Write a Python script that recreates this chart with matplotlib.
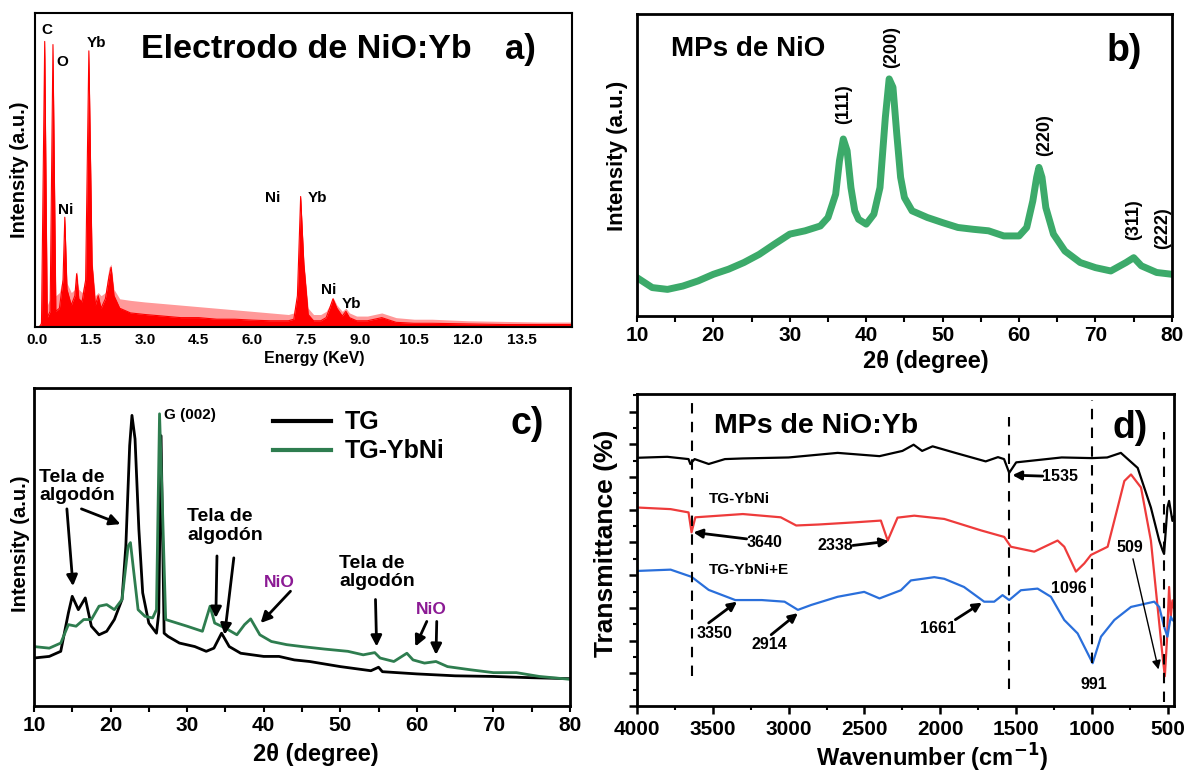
import numpy as np
import matplotlib.pyplot as plt
from matplotlib.ticker import MultipleLocator

plt.rcParams['font.family'] = ['Liberation Sans', 'DejaVu Sans']
plt.rcParams['font.weight'] = 'bold'

# a) EDS spectrum (relative intensity, 1 = top of frame)
edx_e = [0.05, 0.12, 0.21, 0.28, 0.36, 0.44, 0.52, 0.62, 0.72, 0.77, 0.83, 0.95, 1.05, 1.10, 1.16,
         1.25, 1.35, 1.44, 1.53, 1.62, 1.70, 1.78, 1.90, 2.00, 2.06, 2.14, 2.3, 2.6, 3.0, 3.5, 4.0,
         4.5, 5.0, 5.5, 6.0, 6.5, 7.0, 7.15, 7.25, 7.34, 7.43, 7.55, 7.7, 7.9, 8.05, 8.15, 8.24,
         8.35, 8.5, 8.6, 8.7, 8.9, 9.2, 9.6, 10.0, 10.5, 11.0, 12.0, 13.0, 14.0, 14.9]
edx_solid = [0.0, 0.01, 0.91, 0.03, 0.05, 0.90, 0.05, 0.06, 0.15, 0.35, 0.12, 0.07, 0.10, 0.17, 0.09,
             0.08, 0.15, 0.88, 0.20, 0.07, 0.10, 0.06, 0.09, 0.16, 0.19, 0.10, 0.06, 0.045, 0.04, 0.035, 0.03,
             0.03, 0.025, 0.025, 0.022, 0.02, 0.02, 0.025, 0.10, 0.416, 0.20, 0.04, 0.02, 0.02, 0.03, 0.06, 0.09,
             0.06, 0.035, 0.05, 0.03, 0.02, 0.02, 0.03, 0.015, 0.012, 0.012, 0.01, 0.008, 0.008, 0.008]
edx_noise = [0.0, 0.03, 0.91, 0.07, 0.09, 0.90, 0.10, 0.11, 0.16, 0.35, 0.14, 0.11, 0.12, 0.18, 0.12,
             0.11, 0.16, 0.88, 0.21, 0.10, 0.11, 0.10, 0.11, 0.19, 0.20, 0.12, 0.09, 0.085, 0.08, 0.075, 0.07,
             0.065, 0.06, 0.055, 0.05, 0.045, 0.04, 0.045, 0.11, 0.416, 0.21, 0.06, 0.04, 0.04, 0.05, 0.07, 0.095,
             0.07, 0.05, 0.06, 0.045, 0.035, 0.035, 0.045, 0.03, 0.025, 0.025, 0.02, 0.018, 0.016, 0.016]
edx_ticks = [0.0, 1.5, 3.0, 4.5, 6.0, 7.5, 9.0, 10.5, 12.0, 13.5]
edx_peak_names = ['C', 'O', 'Yb', 'Ni', 'Ni', 'Yb', 'Ni', 'Yb']
edx_peak_e = [0.26, 0.70, 1.65, 0.80, 6.57, 7.81, 8.12, 8.76]
edx_peak_h = [0.947, 0.846, 0.904, 0.374, 0.411, 0.411, 0.119, 0.074]

# b) XRD of NiO microparticles
xrd_b_x = [10, 12, 14, 16, 18, 20, 22, 24, 26, 28, 30, 32, 34, 35, 36, 36.5, 37, 37.5, 38, 38.5, 39,
           40, 41, 41.8, 42.5, 43, 43.5, 44, 44.5, 45, 46, 48, 50, 52, 54, 56, 58, 60, 61, 61.8,
           62.3, 62.6, 63, 63.5, 64.5, 66, 68, 70, 72, 74, 75, 76, 78, 80]
xrd_b_y = [0.127, 0.094, 0.088, 0.099, 0.116, 0.138, 0.155, 0.177, 0.204, 0.238, 0.271, 0.282, 0.298,
           0.326, 0.403, 0.514, 0.586, 0.547, 0.425, 0.348, 0.320, 0.304, 0.337, 0.425, 0.657, 0.785,
           0.757, 0.602, 0.459, 0.392, 0.348, 0.326, 0.309, 0.293, 0.287, 0.282, 0.265, 0.265, 0.293,
           0.381, 0.459, 0.492, 0.459, 0.359, 0.271, 0.215, 0.177, 0.160, 0.149, 0.177, 0.193, 0.166,
           0.144, 0.138]
hkl_labels = ['(111)', '(200)', '(220)', '(311)', '(222)']
hkl_x = [37.0, 43.3, 63.3, 75.0, 78.8]
hkl_y = [0.70, 0.89, 0.60, 0.32, 0.29]

# c) XRD of the fabrics
tg_x = [10, 12, 13.5, 14.5, 15, 15.8, 16.7, 17.5, 18.5, 19.5, 20.5, 21.5, 22, 22.5, 22.8, 23.2, 23.7,
        24.2, 25, 26, 26.3, 26.6, 27, 27.5, 29, 31, 32.5, 33.5, 34.5, 35.5, 37, 40, 42, 44, 46, 50,
        54, 55, 55.5, 60, 65, 70, 75, 80]
tg_y = [0.151, 0.156, 0.172, 0.293, 0.345, 0.303, 0.340, 0.251, 0.224, 0.235, 0.272, 0.335, 0.503,
        0.819, 0.914, 0.840, 0.556, 0.356, 0.261, 0.229, 0.293, 0.850, 0.229, 0.219, 0.198, 0.187,
        0.172, 0.182, 0.229, 0.187, 0.166, 0.156, 0.156, 0.145, 0.140, 0.124, 0.111, 0.122, 0.108,
        0.101, 0.095, 0.093, 0.089, 0.086]
tgybni_x = [10, 12, 13.5, 14.5, 15.5, 16.5, 17.5, 18.5, 19.5, 20.5, 21.5, 22.3, 22.6, 23, 23.6, 24.5,
            25.5, 26, 26.4, 26.8, 27.2, 28, 30, 32, 33, 33.6, 35, 36.5, 37.5, 38.3, 39.5, 41, 43, 45,
            48, 51, 53, 54.5, 55.2, 57, 58.7, 59.5, 61, 62.5, 64, 67, 70, 73, 76, 80]
tgybni_y = [0.187, 0.182, 0.198, 0.256, 0.251, 0.272, 0.272, 0.314, 0.319, 0.303, 0.335, 0.503, 0.514,
            0.429, 0.303, 0.282, 0.277, 0.303, 0.919, 0.608, 0.272, 0.266, 0.251, 0.235, 0.314, 0.261,
            0.245, 0.224, 0.256, 0.274, 0.224, 0.203, 0.193, 0.187, 0.179, 0.172, 0.161, 0.168, 0.151,
            0.140, 0.166, 0.145, 0.135, 0.140, 0.124, 0.114, 0.105, 0.105, 0.093, 0.084]
xrd_ticks = [10, 20, 30, 40, 50, 60, 70, 80]

# d) FTIR spectra
ftir_black_x = [4000, 3800, 3700, 3660, 3648, 3620, 3527, 3420, 3302, 3000, 2677, 2401, 2250, 2176, 2120,
                2051, 1901, 1701, 1620, 1580, 1546, 1500, 1400, 1200, 1000, 900, 810, 699, 612, 557,
                535, 525, 503, 492, 470, 460]
ftir_black_y = [7.59, 7.62, 7.57, 7.55, 7.40, 7.55, 7.40, 7.55, 7.57, 7.60, 7.74, 7.64, 7.80, 7.99, 7.80,
                7.94, 7.74, 7.48, 7.61, 7.55, 7.13, 7.45, 7.50, 7.60, 7.58, 7.60, 7.74, 7.28, 6.07, 5.06,
                4.76, 4.65, 6.07, 6.27, 5.66, 5.80]
ftir_red_x = [4000, 3778, 3660, 3640, 3615, 3302, 3052, 2950, 2802, 2552, 2392, 2347, 2282, 2172, 1974,
              1732, 1579, 1535, 1381, 1227, 1183, 1106, 1051, 1007, 897, 831, 787, 743, 677, 612, 568,
              535, 520, 506, 492, 481, 470, 460]
ftir_red_y = [6.07, 6.02, 5.92, 5.31, 5.77, 5.87, 5.77, 5.52, 5.55, 5.62, 5.67, 5.06, 5.76, 5.82, 5.72,
              5.37, 5.17, 4.87, 4.72, 5.06, 4.87, 4.11, 4.36, 4.62, 4.87, 6.07, 6.88, 7.08, 6.68, 5.06, 3.04,
              1.52, 0.91, 2.02, 3.64, 2.73, 3.23, 3.00]
ftir_blue_x = [4000, 3778, 3640, 3527, 3352, 3177, 3027, 2939, 2851, 2677, 2502, 2401, 2260, 2194, 2040,
               1974, 1844, 1711, 1645, 1590, 1546, 1469, 1359, 1271, 1183, 1095, 996, 941, 853, 743,
               590, 557, 525, 503, 481, 470, 460]
ftir_blue_y = [4.13, 4.17, 3.95, 3.55, 3.24, 3.24, 3.19, 2.94, 3.09, 3.34, 3.49, 3.29, 3.54, 3.84, 3.94,
               3.89, 3.64, 3.19, 3.19, 3.39, 3.24, 3.54, 3.59, 3.34, 2.63, 2.22, 1.31, 2.12, 2.63, 3.03,
               3.19, 3.03, 2.43, 2.12, 2.73, 2.63, 2.60]
ftir_ticks = [4000, 3500, 3000, 2500, 2000, 1500, 1000, 500]
band_x = [3640, 1550, 1000, 524]
band_top = [9.25, 8.85, 9.35, 8.39]
band_bottom = [0.92, 0.52, 1.32, 0.11]

fig = plt.figure(figsize=(11.87, 7.75), dpi=100)
ax_a = fig.add_axes([0.0295, 0.578, 0.4524, 0.405])
ax_b = fig.add_axes([0.5366, 0.5923, 0.4507, 0.3897])
ax_c = fig.add_axes([0.0286, 0.0890, 0.4516, 0.4103])
ax_d = fig.add_axes([0.5366, 0.0890, 0.4524, 0.4026])


def frame(ax, lw):
    for s in ax.spines.values():
        s.set_linewidth(lw)
    ax.set_yticks([])


def labels(ax, xl, xs, xpos, yl, ys, ypos):
    ax.set_xlabel(xl, fontsize=xs, fontweight='bold', va='center')
    ax.xaxis.set_label_coords(*xpos)
    ax.set_ylabel(yl, fontsize=ys, fontweight='bold', va='center')
    ax.yaxis.set_label_coords(*ypos)


def arrow(ax, start, end, lw=2.0, ms=16):
    ax.annotate('', xy=end, xytext=start,
                arrowprops=dict(arrowstyle='-|>', color='k', lw=lw, mutation_scale=ms,
                                shrinkA=0, shrinkB=0))


# ---- a)
ax_a.fill_between(edx_e, 0, edx_noise, color='#ff0000', alpha=0.4, lw=0)
ax_a.fill_between(edx_e, 0, edx_solid, color='#ff0000', lw=0)
ax_a.plot(edx_e, edx_solid, color='#ff0000', lw=0.8)
ax_a.set_xlim(-0.06, 14.9)
ax_a.set_ylim(0, 1)
frame(ax_a, 1.5)
ax_a.set_xticks(edx_ticks)
ax_a.set_xticklabels(['%.1f' % t for t in edx_ticks], fontsize=11, fontweight='bold')
ax_a.tick_params(axis='x', length=0, pad=4)
labels(ax_a, 'Energy (KeV)', 11.5, (0.52, -0.1), 'Intensity (a.u.)', 14.5, (-0.028, 0.5))
for name, e, h in zip(edx_peak_names, edx_peak_e, edx_peak_h):
    ax_a.text(e, h, name, fontsize=11, fontweight='bold', ha='center', va='center')
ax_a.text(2.89, 0.885, 'Electrodo de NiO:Yb', fontsize=24.5, fontweight='bold', va='center')
ax_a.text(13.45, 0.885, 'a)', fontsize=25, fontweight='bold', ha='center', va='center')

# ---- b)
ax_b.plot(xrd_b_x, xrd_b_y, color='#3CAA6A', lw=5)
ax_b.set_xlim(10, 80)
ax_b.set_ylim(0, 1)
frame(ax_b, 2)
ax_b.set_xticks(xrd_ticks)
ax_b.set_xticklabels([str(t) for t in xrd_ticks], fontsize=15, fontweight='bold')
ax_b.xaxis.set_minor_locator(MultipleLocator(5))
ax_b.tick_params(axis='x', which='both', direction='out', length=4, width=1.5, pad=3)
labels(ax_b, '2θ (degree)', 17, (0.54, -0.152), 'Intensity (a.u.)', 16, (-0.037, 0.53))
for lab, x, y in zip(hkl_labels, hkl_x, hkl_y):
    ax_b.text(x, y, lab, rotation=90, fontsize=13, fontweight='bold', ha='center', va='center')
ax_b.text(14.5, 0.884, 'MPs de NiO', fontsize=20, fontweight='bold', va='center')
ax_b.text(73.75, 0.878, 'b)', fontsize=27, fontweight='bold', ha='center', va='center')

# ---- c)
ax_c.plot(tg_x, tg_y, color='k', lw=2, label='TG')
ax_c.plot(tgybni_x, tgybni_y, color='#2E7D4F', lw=2, label='TG-YbNi')
ax_c.set_xlim(10, 80)
ax_c.set_ylim(0, 1)
frame(ax_c, 2)
ax_c.set_xticks(xrd_ticks)
ax_c.set_xticklabels([str(t) for t in xrd_ticks], fontsize=15, fontweight='bold')
ax_c.xaxis.set_minor_locator(MultipleLocator(5))
ax_c.tick_params(axis='x', which='both', direction='out', length=4, width=1.5, pad=3)
labels(ax_c, '2θ (degree)', 17, (0.526, -0.152), 'Intensity (a.u.)', 14.5, (-0.026, 0.51))
leg = ax_c.legend(loc='upper left', bbox_to_anchor=(0.446, 0.93), frameon=False, fontsize=18,
                  handlelength=2.3, handletextpad=0.55, labelspacing=0.2, borderpad=0, borderaxespad=0)
for h in leg.get_lines():
    h.set_linewidth(3)
ax_c.text(27.0, 0.914, 'G (002)', fontsize=11, fontweight='bold', va='center')
ax_c.text(74.4, 0.887, 'c)', fontsize=27, fontweight='bold', ha='center', va='center')
tela_kw = dict(fontsize=14, fontweight='bold', va='center', linespacing=1.1)
ax_c.text(10.7, 0.69, 'Tela de\nalgodón', **tela_kw)
ax_c.text(30.0, 0.566, 'Tela de\nalgodón', **tela_kw)
ax_c.text(49.9, 0.419, 'Tela de\nalgodón', **tela_kw)
nio_kw = dict(fontsize=12.5, fontweight='bold', color='#8B1A94', ha='center', va='center')
ax_c.text(42.0, 0.387, 'NiO', **nio_kw)
ax_c.text(61.9, 0.305, 'NiO', **nio_kw)
arrow(ax_c, (14.3, 0.62), (15.1, 0.377))
arrow(ax_c, (16.2, 0.62), (21.3, 0.572))
arrow(ax_c, (33.9, 0.472), (33.75, 0.277))
arrow(ax_c, (36.1, 0.466), (34.9, 0.224))
arrow(ax_c, (43.5, 0.361), (39.6, 0.261))
arrow(ax_c, (54.6, 0.335), (54.75, 0.187))
arrow(ax_c, (61.3, 0.266), (59.8, 0.187))
arrow(ax_c, (62.6, 0.266), (62.5, 0.161))

# ---- d)
ax_d.plot(ftir_black_x, ftir_black_y, color='k', lw=1.6)
ax_d.plot(ftir_red_x, ftir_red_y, color='#EE3B3B', lw=1.6)
ax_d.plot(ftir_blue_x, ftir_blue_y, color='#2A6FDB', lw=1.6)
for x, y0, y1 in zip(band_x, band_bottom, band_top):
    ax_d.plot([x, x], [y0, y1], color='k', lw=1.5, ls=(0, (5, 4)))
ax_d.set_xlim(4000, 460)
ax_d.set_ylim(0, 9.54)
for s in ax_d.spines.values():
    s.set_linewidth(2)
ax_d.set_xticks(ftir_ticks)
ax_d.set_xticklabels([str(t) for t in ftir_ticks], fontsize=15, fontweight='bold')
ax_d.xaxis.set_minor_locator(MultipleLocator(250))
ax_d.set_yticks(range(0, 10))
ax_d.yaxis.set_minor_locator(MultipleLocator(0.5))
ax_d.set_yticklabels([])
ax_d.tick_params(which='major', direction='out', length=6, width=1.8, pad=4)
ax_d.tick_params(which='minor', direction='out', length=3, width=1.5)
labels(ax_d, 'Wavenumber (cm$^{\\mathbf{-1}}$)', 17, (0.55, -0.165), 'Transmittance (%)', 19, (-0.058, 0.52))
ax_d.text(3490, 8.55, 'MPs de NiO:Yb', fontsize=20.5, fontweight='bold', va='center')
ax_d.text(750, 8.5, 'd)', fontsize=27, fontweight='bold', ha='center', va='center')
ax_d.text(3527, 6.32, 'TG-YbNi', fontsize=11, fontweight='bold', va='center')
ax_d.text(3527, 4.15, 'TG-YbNi+E', fontsize=11, fontweight='bold', va='center')
num_kw = dict(fontsize=11.5, fontweight='bold', ha='center', va='center')
ax_d.text(1210, 7.03, '1535', **num_kw)
ax_d.text(3157, 5.01, '3640', **num_kw)
ax_d.text(2689, 4.91, '2338', **num_kw)
ax_d.text(3490, 2.23, '3350', **num_kw)
ax_d.text(3127, 1.88, '2914', **num_kw)
ax_d.text(2013, 2.38, '1661', **num_kw)
ax_d.text(1155, 3.60, '1096', **num_kw)
ax_d.text(987, 0.67, '991', **num_kw)
ax_d.text(750, 4.86, '509', **num_kw)
arrow(ax_d, (1325, 7.03), (1525, 7.06), ms=13)
arrow(ax_d, (3277, 5.11), (3628, 5.31), ms=13)
arrow(ax_d, (2576, 4.91), (2339, 5.04), ms=13)
arrow(ax_d, (3527, 2.54), (3340, 3.19), ms=13)
arrow(ax_d, (3115, 2.18), (2939, 2.84), ms=13)
arrow(ax_d, (1901, 2.64), (1726, 3.16), ms=13)
arrow(ax_d, (730, 4.5), (562, 1.12), lw=1.0, ms=13)

fig.savefig('out.png', dpi=100)
